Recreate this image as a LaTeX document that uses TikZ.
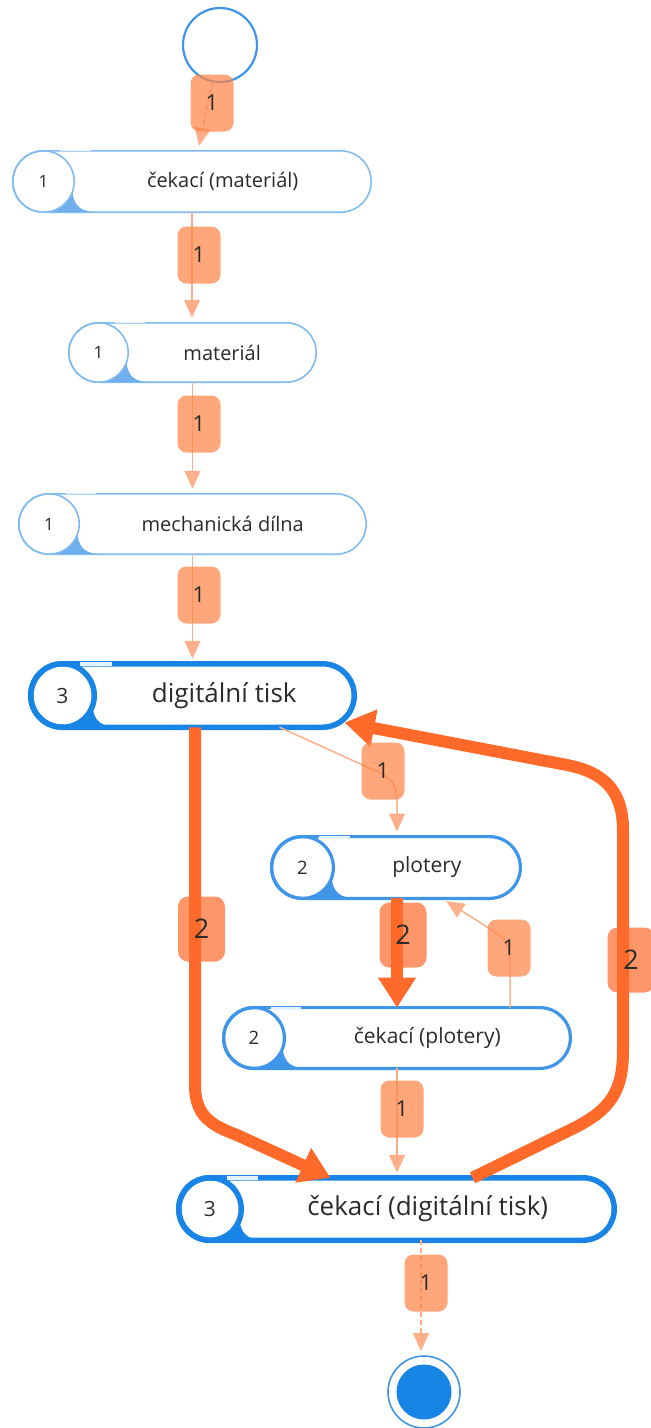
\documentclass[tikz,border=0pt]{standalone}
\usepackage{fontspec}
\setmainfont{Open Sans}
\usetikzlibrary{arrows.meta,calc}

\definecolor{bluelt}{HTML}{80BCF2}
\definecolor{wedgelt}{HTML}{6FAFEE}
\definecolor{bluemid}{HTML}{3F95E8}
\definecolor{bluedk}{HTML}{1784E6}
\definecolor{gapc}{HTML}{E6F2FD}
\definecolor{orlt}{HTML}{FFB08A}
\definecolor{ordk}{HTML}{FF6A2A}
\definecolor{lblonec}{HTML}{FF8448}
\definecolor{txt}{HTML}{2B2B2B}

\tikzset{
  pill-thin/.style={draw=bluelt, line width=1.6, fill=white, inner sep=0, outer sep=0},
  wedge-thin/.style={fill=wedgelt},
  ring-thin/.style={draw=bluelt, line width=1.6},
  gap-thin/.style={draw=gapc, line width=1.2},
  count-thin/.style={text=txt, font=\fontsize{17}{20}\selectfont},
  text-thin/.style={text=txt, font=\fontsize{20}{24}\selectfont},
  pill-mid/.style={draw=bluemid, line width=3.2, fill=white, inner sep=0, outer sep=0},
  wedge-mid/.style={fill=bluemid},
  ring-mid/.style={draw=bluemid, line width=3.2},
  gap-mid/.style={draw=gapc, line width=2.2},
  count-mid/.style={text=txt, font=\fontsize{18.5}{22}\selectfont},
  text-mid/.style={text=txt, font=\fontsize{21}{25}\selectfont},
  pill-thick/.style={draw=bluedk, line width=5.5, fill=white, inner sep=0, outer sep=0},
  wedge-thick/.style={fill=bluedk},
  ring-thick/.style={draw=bluedk, line width=5.5},
  gap-thick/.style={draw=gapc, line width=3.8},
  count-thick/.style={text=txt, font=\fontsize{21}{25}\selectfont},
  text-thick/.style={text=txt, font=\fontsize{26}{31}\selectfont},
  thinedge/.style={draw=orlt, line width=1.5, -{Triangle[width=16pt,length=18pt]}, shorten >=5pt},
  thickedge/.style={draw=ordk, line width=12, -{Triangle[width=36pt,length=30pt]}},
  dashline/.style={dash pattern=on 5pt off 3pt},
  lblone/.style={rectangle, rounded corners=9, minimum width=43, minimum height=57,
    inner sep=0, fill=lblonec, fill opacity=0.72, text opacity=1, text=txt,
    font=\fontsize{22}{26}\selectfont},
  lbltwo/.style={rectangle, rounded corners=10, minimum width=47, minimum height=65,
    inner sep=0, fill=ordk, fill opacity=0.7, text opacity=1, text=txt,
    font=\fontsize{27}{32}\selectfont},
}

% state box: #1 kind, #2 name, #3 centre x, #4 centre y (downwards), #5 width, #6 height, #7 count, #8 title
\newcommand\statepill[8]{%
  \pgfmathsetmacro\pillY{-(#4)}%
  \pgfmathsetmacro\pillr{(#6)/2}%
  \pgfmathsetmacro\pillL{(#3)-(#5)/2}%
  \pgfmathsetmacro\pillC{\pillL+\pillr}%
  \pgfmathsetmacro\pillT{((\pillL+2*\pillr)+((#3)+(#5)/2))/2}%
  \node[pill-#1, minimum width=#5, minimum height=#6, rounded corners=\pillr] (#2) at (#3,\pillY) {};
  \fill[wedge-#1] ({\pillC},{\pillY-\pillr}) -- ({\pillC+1.8*\pillr},{\pillY-\pillr})
    .. controls ({\pillC+1.2*\pillr},{\pillY-\pillr}) and ({\pillC+1.0*\pillr},{\pillY-0.8*\pillr})
    .. ({\pillC+0.94*\pillr},{\pillY-0.342*\pillr})
    arc[start angle=-20, end angle=-90, radius=\pillr] -- cycle;
  \draw[ring-#1] ({\pillC},{\pillY}) circle[radius=\pillr];
  \draw[gap-#1] ({\pillL+1.55*\pillr},{\pillY+\pillr}) -- ({\pillL+2.55*\pillr},{\pillY+\pillr});
  \node[count-#1] (#2-count) at ({\pillC},{\pillY}) {#7};
  \node[text-#1] (#2-text) at ({\pillT},{\pillY}) {#8};
}

\begin{document}
\begin{tikzpicture}[x=1pt, y=1pt]
  \useasboundingbox (0,0) rectangle (651,-1428);

  % start and end markers
  \node[circle, draw=bluemid, line width=2.2, minimum size=74, inner sep=0, outer sep=0] (start) at (220,-45) {};
  \node[circle, draw=bluemid, line width=1.6, minimum size=72, inner sep=0, outer sep=0, fill=white] (end) at (424,-1392) {};
  \fill[bluedk] (end.center) circle[radius=27.5];

  % states
  \statepill{thin}{mat0}{192}{181.5}{358.4}{61.4}{1}{čekací (materiál)}
  \statepill{thin}{mat}{192.5}{352.5}{247.4}{59.4}{1}{materiál}
  \statepill{thin}{mech}{192.5}{524}{347.4}{60.4}{1}{mechanická dílna}
  \statepill{thick}{dig}{192.5}{695.5}{323.5}{63.5}{3}{digitální tisk}
  \statepill{mid}{plot}{396}{867.5}{248.8}{61.8}{2}{plotery}
  \statepill{mid}{plot0}{397}{1038}{346.8}{60.8}{2}{čekací (plotery)}
  \statepill{thick}{dig0}{396.5}{1209}{435.5}{62.5}{3}{čekací (digitální tisk)}

  % transitions
  \draw[thinedge, dashline] (start) -- ([xshift=6]mat0.north);
  \draw[thinedge] (mat0.south) -- (mat0.south |- mat.north);
  \draw[thinedge] (mat.south) -- (mat.south |- mech.north);
  \draw[thinedge] (mech.south) -- (mech.south |- dig.north);
  \draw[thickedge] ([xshift=2.5]dig.south) -- (195,-1085)
    .. controls (195,-1115) and (210,-1125) .. (237,-1135) -- ([xshift=-66]dig0.north);
  \draw[thinedge] ([xshift=87]dig.south) -- (376,-771)
    .. controls (393,-778) and (397,-787) .. (397,-802) -- ([xshift=1]plot.north);
  \draw[thickedge] ([xshift=1]plot.south) -- ([xshift=1]plot.south |- plot0.north);
  \draw[thinedge] ([xshift=113]plot0.north) -- (510,-960)
    .. controls (510,-946) and (505,-939) .. (495,-932) -- ([xshift=46]plot.south);
  \draw[thinedge] (plot0.south) -- (plot0.south |- dig0.north);
  \draw[thickedge] ([xshift=76]dig0.north) -- (570,-1130)
    .. controls (612,-1110) and (623,-1090) .. (623,-1050) -- (623,-830)
    .. controls (623,-790) and (603,-772) .. (567,-765) -- ([xshift=152,yshift=-27]dig.center);
  \draw[thinedge, dashline] ([xshift=24.5]dig0.south) -- ([xshift=-3]end.north);

  % transition counts
  \node[lblone] (c1) at (212,-103) {1};
  \node[lblone] (c2) at (199,-255) {1};
  \node[lblone] (c3) at (199,-424) {1};
  \node[lblone] (c4) at (199,-595) {1};
  \node[lbltwo] (c5) at (201.5,-929) {2};
  \node[lblone] (c6) at (383,-771) {1};
  \node[lbltwo] (c7) at (403,-935) {2};
  \node[lblone] (c8) at (509,-948) {1};
  \node[lbltwo] (c9) at (631,-960) {2};
  \node[lblone] (c10) at (402,-1109) {1};
  \node[lblone] (c11) at (426,-1283) {1};
\end{tikzpicture}
\end{document}
